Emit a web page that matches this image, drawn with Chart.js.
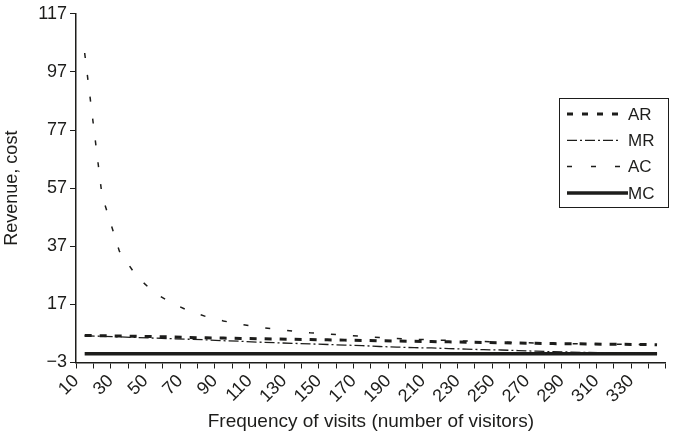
<!DOCTYPE html>
<html lang="en">

<head>
  <meta charset="UTF-8">
  <title>Revenue and cost by frequency of visits</title>
  <script src="https://cdn.jsdelivr.net/npm/chart.js"></script>
  <style>
    body { margin: 0; background: #fff; }
    #wrap { width: 683px; height: 438px; position: relative; }
  </style>
</head>

<body>
  <div id="wrap">
    <canvas id="revenueChart"></canvas>
  </div>

  <script>
    // values
    const visits = [15, 25, 35, 45, 55, 65, 75, 85, 95, 105, 115, 125, 135, 145, 155, 165, 175,
      185, 195, 205, 215, 225, 235, 245, 255, 265, 275, 285, 295, 305, 315, 325, 335, 345];
    const arValues = [6.3, 6.2, 6.1, 6.0, 5.9, 5.8, 5.6, 5.5, 5.4, 5.3, 5.2, 5.1, 5.0, 4.9, 4.8, 4.7, 4.6,
      4.5, 4.4, 4.3, 4.2, 4.1, 4.0, 3.9, 3.8, 3.7, 3.6, 3.5, 3.45, 3.4, 3.3, 3.25, 3.2, 3.1];
    const mrValues = [6.2, 6.0, 5.8, 5.6, 5.4, 5.2, 5.0, 4.8, 4.5, 4.3, 4.0, 3.8, 3.6, 3.4, 3.2, 3.0, 2.8,
      2.5, 2.3, 2.1, 2.0, 1.8, 1.6, 1.4, 1.3, 1.1, 0.9, 0.7, 0.6, 0.45, 0.3, 0.2, 0.1, 0.0];
    const acValues = [103.5, 54.5, 35.3, 26.6, 21.1, 17.5, 14.8, 12.8, 11.3, 10.1, 9.2, 8.5, 7.8, 7.2, 6.8, 6.4, 6.0,
      5.6, 5.3, 5.0, 4.8, 4.6, 4.4, 4.2, 4.0, 3.85, 3.7, 3.6, 3.5, 3.4, 3.3, 3.25, 3.2, 3.1];
    const mcValues = [0, 0, 0, 0, 0, 0, 0, 0, 0, 0, 0, 0, 0, 0, 0, 0, 0,
      0, 0, 0, 0, 0, 0, 0, 0, 0, 0, 0, 0, 0, 0, 0, 0, 0];

    const yTicks = [-3, 17, 37, 57, 77, 97, 117];
    const xTicks = [10, 20, 30, 40, 50, 60, 70, 80, 90, 100, 110, 120, 130, 140, 150, 160, 170,
      180, 190, 200, 210, 220, 230, 240, 250, 260, 270, 280, 290, 300, 310, 320, 330, 340, 350];
    const xLabels = [10, 30, 50, 70, 90, 110, 130, 150, 170, 190, 210, 230, 250, 270, 290, 310, 330];

    const ink = '#1d1d1b';
    const font = "'Liberation Sans', Arial, sans-serif";

    const series = [
      { label: 'AR', values: arValues, width: 3, dash: [7, 8], key: [6, 9] },
      { label: 'MR', values: mrValues, width: 1.3, dash: [10, 3, 2, 3], key: [10, 3, 2, 3] },
      { label: 'AC', values: acValues, width: 1.5, dash: [5, 17], key: [5, 19] },
      { label: 'MC', values: mcValues, width: 3.5, dash: [], key: [] }
    ];

    // boxed legend in the upper right, like the original
    const boxLegend = {
      id: 'boxLegend',
      afterDraw(chart) {
        const ctx = chart.ctx;
        ctx.save();
        ctx.strokeStyle = ink;
        ctx.lineWidth = 1;
        ctx.setLineDash([]);
        ctx.strokeRect(559.5, 98.5, 109, 109);
        ctx.font = '17px ' + font;
        ctx.fillStyle = ink;
        ctx.textBaseline = 'middle';
        series.forEach((s, i) => {
          const y = 114 + i * 26.3;
          ctx.beginPath();
          ctx.lineWidth = s.width;
          ctx.setLineDash(s.key);
          ctx.moveTo(567, y);
          ctx.lineTo(s.label === 'MC' ? 628 : 621, y);
          ctx.stroke();
          ctx.fillText(s.label, 628, y + 1);
        });
        ctx.restore();
      }
    };

    const revenueCtx = document.getElementById('revenueChart').getContext('2d');
    new Chart(revenueCtx, {
      type: 'line',
      data: {
        datasets: series.map(s => ({
          label: s.label,
          data: visits.map((v, i) => ({ x: v, y: s.values[i] })),
          borderColor: ink,
          borderWidth: s.width,
          borderDash: s.dash,
          borderCapStyle: 'butt',
          pointRadius: 0,
          tension: 0,
          fill: false
        }))
      },
      options: {
        responsive: true,
        maintainAspectRatio: false,
        animation: false,
        layout: { padding: { top: 10, right: 1, bottom: 0, left: 0 } },
        plugins: {
          legend: { display: false },
          tooltip: { enabled: false }
        },
        scales: {
          x: {
            type: 'linear',
            min: 10,
            max: 350,
            afterBuildTicks: scale => { scale.ticks = xTicks.map(v => ({ value: v })); },
            afterFit: scale => { scale.height = 75.5; },
            grid: { drawOnChartArea: false, drawTicks: true, tickLength: 6, color: ink, lineWidth: 1 },
            border: { display: true, color: ink, width: 1.5 },
            ticks: {
              autoSkip: false,
              minRotation: 45,
              maxRotation: 45,
              padding: 2,
              color: ink,
              font: { family: font, size: 18 },
              callback: v => xLabels.includes(v) ? String(v) : ''
            },
            title: {
              display: true,
              text: 'Frequency of visits (number of visitors)',
              color: ink,
              font: { family: font, size: 19 },
              padding: { top: 4, bottom: 5 }
            }
          },
          y: {
            min: -3,
            max: 117,
            afterBuildTicks: scale => { scale.ticks = yTicks.map(v => ({ value: v })); },
            afterFit: scale => { scale.width = 76; },
            grid: { drawOnChartArea: false, drawTicks: true, tickLength: 6, color: ink, lineWidth: 1 },
            border: { display: true, color: ink, width: 1.5 },
            ticks: {
              padding: 3,
              color: ink,
              font: { family: font, size: 18 },
              callback: v => v < 0 ? '\u2212' + Math.abs(v) : String(v)
            },
            title: {
              display: true,
              text: 'Revenue, cost',
              color: ink,
              font: { family: font, size: 18 },
              padding: { top: 1, bottom: 0 }
            }
          }
        }
      },
      plugins: [boxLegend]
    });
  </script>
</body>

</html>
